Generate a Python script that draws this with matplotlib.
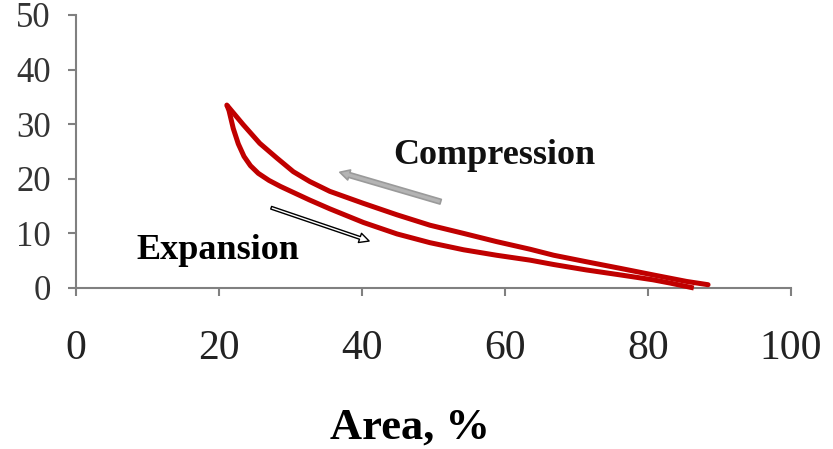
import numpy as np
import matplotlib.pyplot as plt

# compression branch (upper curve), right end -> peak
comp_x = [88.4, 85.4, 80.7, 76.1, 71.4, 66.8, 63.5, 58.8, 54.2, 49.5, 44.9,
          40.2, 35.5, 32.7, 30.4, 28.1, 25.7, 23.4, 21.1]
comp_y = [0.6, 1.2, 2.4, 3.6, 4.8, 6.0, 7.1, 8.5, 10.0, 11.5, 13.4,
          15.5, 17.7, 19.5, 21.3, 23.8, 26.5, 29.9, 33.5]

# expansion branch (lower curve), peak -> right end
exp_x = [21.1, 21.4, 22.0, 22.7, 23.5, 24.4, 25.5, 27.0, 28.6, 30.4, 32.7,
         35.5, 40.2, 44.9, 49.5, 54.2, 58.8, 63.5, 66.8, 71.4, 76.1, 80.7,
         83.1, 86.4]
exp_y = [33.5, 32.5, 29.2, 26.4, 24.1, 22.4, 21.0, 19.7, 18.6, 17.5, 16.1,
         14.5, 12.0, 9.9, 8.3, 7.0, 6.0, 5.1, 4.3, 3.3, 2.4, 1.5,
         0.9, 0.0]

x_ticks = [0, 20, 40, 60, 80, 100]
y_ticks = [0, 10, 20, 30, 40, 50]

plt.rcParams["font.family"] = ["Liberation Serif", "DejaVu Serif"]

fig = plt.figure(figsize=(8.33, 4.49), dpi=100)
ax = fig.add_axes([0.0912, 0.3586, 0.8584, 0.608])

red = "#c00000"
ax.plot(comp_x, comp_y, color=red, lw=3.6, solid_capstyle="round", solid_joinstyle="round",
        clip_on=False)
ax.plot(exp_x, exp_y, color=red, lw=3.6, solid_capstyle="butt", solid_joinstyle="round",
        clip_on=False)

ax.set_xlim(0, 100)
ax.set_ylim(0, 50)
ax.set_xticks(x_ticks)
ax.set_yticks(y_ticks)

for s in ["top", "right"]:
    ax.spines[s].set_visible(False)
for s in ["left", "bottom"]:
    ax.spines[s].set_color("#808080")
    ax.spines[s].set_linewidth(1.5)
    ax.spines[s].set_zorder(1)

ax.tick_params(axis="both", direction="out", length=6, width=1.5, color="#808080")
ax.tick_params(axis="y", labelsize=25, labelcolor="#333333", pad=12)
ax.tick_params(axis="x", labelsize=30, labelcolor="#222222", pad=24)

fig.text(410 / 833, 1 - 428 / 449, "Area, %", fontsize=32, fontweight="bold",
         ha="center", va="center")

ax.text(58.5, 24.2, "Compression", fontsize=26, fontweight="bold",
        ha="center", va="center", color="#111111")
ax.text(19.9, 6.8, "Expansion", fontsize=26, fontweight="bold",
        ha="center", va="center", color="black")

ax.annotate("", xy=(36.9, 21.2), xytext=(51.0, 15.8),
            arrowprops=dict(arrowstyle="simple,head_length=0.7,head_width=0.75,tail_width=0.35",
                            fc="#b4b4b4", ec="#9a9a9a", lw=1.2, shrinkA=0, shrinkB=0))
ax.annotate("", xy=(41.0, 8.6), xytext=(27.3, 14.7),
            arrowprops=dict(arrowstyle="simple,head_length=0.7,head_width=0.7,tail_width=0.2",
                            fc="white", ec="black", lw=1.0, shrinkA=0, shrinkB=0))

fig.savefig("out.png", dpi=100)
